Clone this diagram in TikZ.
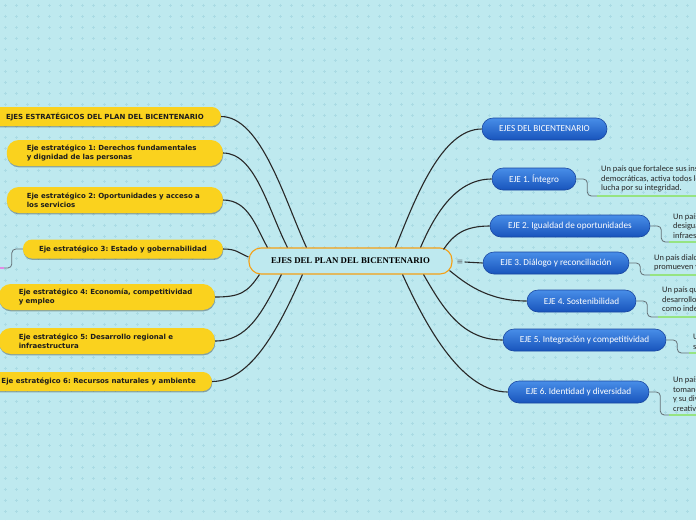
\documentclass[tikz,border=0pt]{standalone}
\usepackage{fontspec}
\setmainfont{Liberation Serif}
\newfontfamily\ejefont{Carlito}
\newfontfamily\estfont{DejaVu Sans}
\usepackage{tikz}
\usetikzlibrary{positioning,calc,shadows}
\frenchspacing
\definecolor{mapbg}{RGB}{190,233,239}
\definecolor{mapplus}{RGB}{170,219,228}
\definecolor{axisgold}{RGB}{250,210,30}
\definecolor{axisink}{RGB}{28,28,28}
\definecolor{corering}{RGB}{245,160,20}
\definecolor{ejetop}{RGB}{72,142,232}
\definecolor{ejebot}{RGB}{24,84,188}
\definecolor{ejerim}{RGB}{25,70,160}
\definecolor{linkink}{RGB}{40,40,40}
\definecolor{elbowgray}{RGB}{100,112,118}
\definecolor{notegreen}{RGB}{150,228,130}
\definecolor{notepink}{RGB}{225,140,230}
\definecolor{notetext}{RGB}{40,40,40}

\begin{document}
\begin{tikzpicture}[x=1pt,y=-1pt,
    core/.style={rectangle,rounded corners=12pt,draw=corering,line width=1.1pt,
                 fill=mapbg,minimum width=203pt,minimum height=26pt,
                 font=\bfseries\fontsize{8.8}{10}\selectfont},
    estrat/.style={rectangle,rounded corners=9pt,fill=axisgold,text=axisink,
                   anchor=east,align=left,minimum height=19pt,inner ysep=3pt,
                   font=\estfont\bfseries\fontsize{7}{9}\selectfont,
                   drop shadow={shadow xshift=0.4pt,shadow yshift=-1.4pt,
                                opacity=0.3,fill=black}},
    estrat2/.style={estrat,rounded corners=12pt,minimum height=26pt,
                    text width=176pt,inner xsep=20pt},
    eje/.style={rectangle,rounded corners=11pt,draw=ejerim,line width=0.6pt,
                top color=ejetop,bottom color=ejebot,text=white,
                minimum height=22pt,inner xsep=0pt,
                font=\ejefont\fontsize{9.2}{11}\selectfont},
    nota/.style={anchor=south west,align=left,text=notetext,
                 inner xsep=4pt,inner ysep=3.5pt,
                 font=\ejefont\fontsize{8.4}{9.5}\selectfont},
    link/.style={linkink,line width=1.1pt},
    elbow/.style={elbowgray,line width=0.8pt,rounded corners=4pt},
    uline/.style={notegreen,line width=1.6pt}]
  \useasboundingbox (0,0) rectangle (696,520);
  \clip (0,0) rectangle (696,520);
  \fill[mapbg] (0,0) rectangle (696,520);
  % faint plus grid
  \foreach \i in {0,...,63}
    \foreach \j in {0,...,47}
      \draw[mapplus,line width=0.5pt] (\i*11+5,\j*11+5) +(-1.5,0) -- +(1.5,0)
                                                        +(0,-1.5) -- +(0,1.5);

  % centre
  \node[core] (ctr) at (350.5,261) {EJES DEL PLAN DEL BICENTENARIO};
  \node[text=elbowgray,inner sep=1pt,font=\estfont\fontsize{8}{8}\selectfont]
       (notes) at (460,262) {≡};

  % left branch
  \node[estrat,inner xsep=17pt] (lh) at (221,116.5)
       {EJES ESTRATÉGICOS DEL PLAN DEL BICENTENARIO};
  \node[estrat2] (l1) at (223,153)
       {Eje estratégico 1: Derechos fundamentales\\y dignidad de las personas};
  \node[estrat2] (l2) at (223,200)
       {Eje estratégico 2: Oportunidades y acceso a\\los servicios};
  \node[estrat,inner xsep=16pt] (l3) at (223,249)
       {Eje estratégico 3: Estado y gobernabilidad};
  \node[estrat2] (l4) at (215,297)
       {Eje estratégico 4: Economía, competitividad\\y empleo};
  \node[estrat2] (l5) at (215,341)
       {Eje estratégico 5: Desarrollo regional e\\infraestructura};
  \node[estrat,inner xsep=16pt] (l6) at (212,381.5)
       {Eje estratégico 6: Recursos naturales y ambiente};

  % right branch
  \node[eje,minimum width=125pt] (r0) at (544.5,129) {EJES DEL BICENTENARIO};
  \node[eje,minimum width=84pt]  (r1) at (534,179)   {EJE 1. Íntegro};
  \node[eje,minimum width=160pt] (r2) at (570,226)   {EJE 2. Igualdad de oportunidades};
  \node[eje,minimum width=146pt] (r3) at (556,263)   {EJE 3. Diálogo y reconciliación};
  \node[eje,minimum width=109pt] (r4) at (581.5,301) {EJE 4. Sostenibilidad};
  \node[eje,minimum width=163pt] (r5) at (584.5,340) {EJE 5. Integración y competitividad};
  \node[eje,minimum width=141pt] (r6) at (578.5,392) {EJE 6. Identidad y diversidad};

  \node[nota] (t1) at (597,196)
       {Un país que fortalece sus instituciones\\democráticas, activa todos los\\lucha por su integridad.};
  \node[nota] (t2) at (669,242) {Un país\\desigualdades\\infraestructura};
  \node[nota] (t3) at (650,275) {Un país dialoga\\promueven y};
  \node[nota] (t4) at (658,317) {Un país que\\desarrollo\\como independiente};
  \node[nota] (t5) at (689,353) {Un\\su};
  \node[nota] (t6) at (669,415) {Un país\\tomando\\y su diversidad\\creativa};

  % links, left
  \draw[link] (lh.east) .. controls +(40,0) and +(-22,-48) .. ($(ctr.north west)+(58,0)$);
  \draw[link] (l1.east) .. controls +(32,0) and +(-20,-40) .. ($(ctr.north west)+(39,0)$);
  \draw[link] (l2.east) .. controls +(25,0) and +(-12,-22) .. ($(ctr.north west)+(19,0)$);
  \draw[link] (l3.east) .. controls +(14,0) and +(-10,-4) .. ($(ctr.west)+(0,-4)$);
  \draw[link] (l4.east) .. controls +(25,0) and +(-12,18) .. ($(ctr.south west)+(11,0)$);
  \draw[link] (l5.east) .. controls +(32,0) and +(-20,40) .. ($(ctr.south west)+(33,0)$);
  \draw[link] (l6.east) .. controls +(40,0) and +(-22,50) .. ($(ctr.south west)+(54,0)$);

  % links, right
  \draw[link] ($(ctr.north east)+(-57,0)$) .. controls +(20,-50) and +(-40,0) .. (r0.west);
  \draw[link] ($(ctr.north east)+(-32,0)$) .. controls +(15,-35) and +(-35,0) .. (r1.west);
  \draw[link] ($(ctr.north east)+(-9,2)$) .. controls +(10,-15) and +(-25,0) .. (r2.west);
  \draw[link] (notes.east) -- (r3.west);
  \draw[link] ($(ctr.south east)+(-3,-4)$) .. controls +(15,12) and +(-40,0) .. (r4.west);
  \draw[link] ($(ctr.south east)+(-29,0)$) .. controls +(20,35) and +(-40,0) .. (r5.west);
  \draw[link] ($(ctr.south east)+(-50,0)$) .. controls +(25,55) and +(-45,0) .. (r6.west);

  % notes
  \foreach \r/\t in {r1/t1,r2/t2,r3/t3,r4/t4,r5/t5,r6/t6} {
    \draw[elbow] (\r.east) -- ++(11,0) |- (\t.south west);
    \draw[uline] (\t.south west) -- (\t.south east);
  }
  \coordinate (l3sub) at (4,268);
  \draw[elbow] (l3.west) -- ++(-11,0) |- (l3sub);
  \draw[notepink,line width=1.6pt] (l3sub) -- ++(-6,0);
\end{tikzpicture}
\end{document}
